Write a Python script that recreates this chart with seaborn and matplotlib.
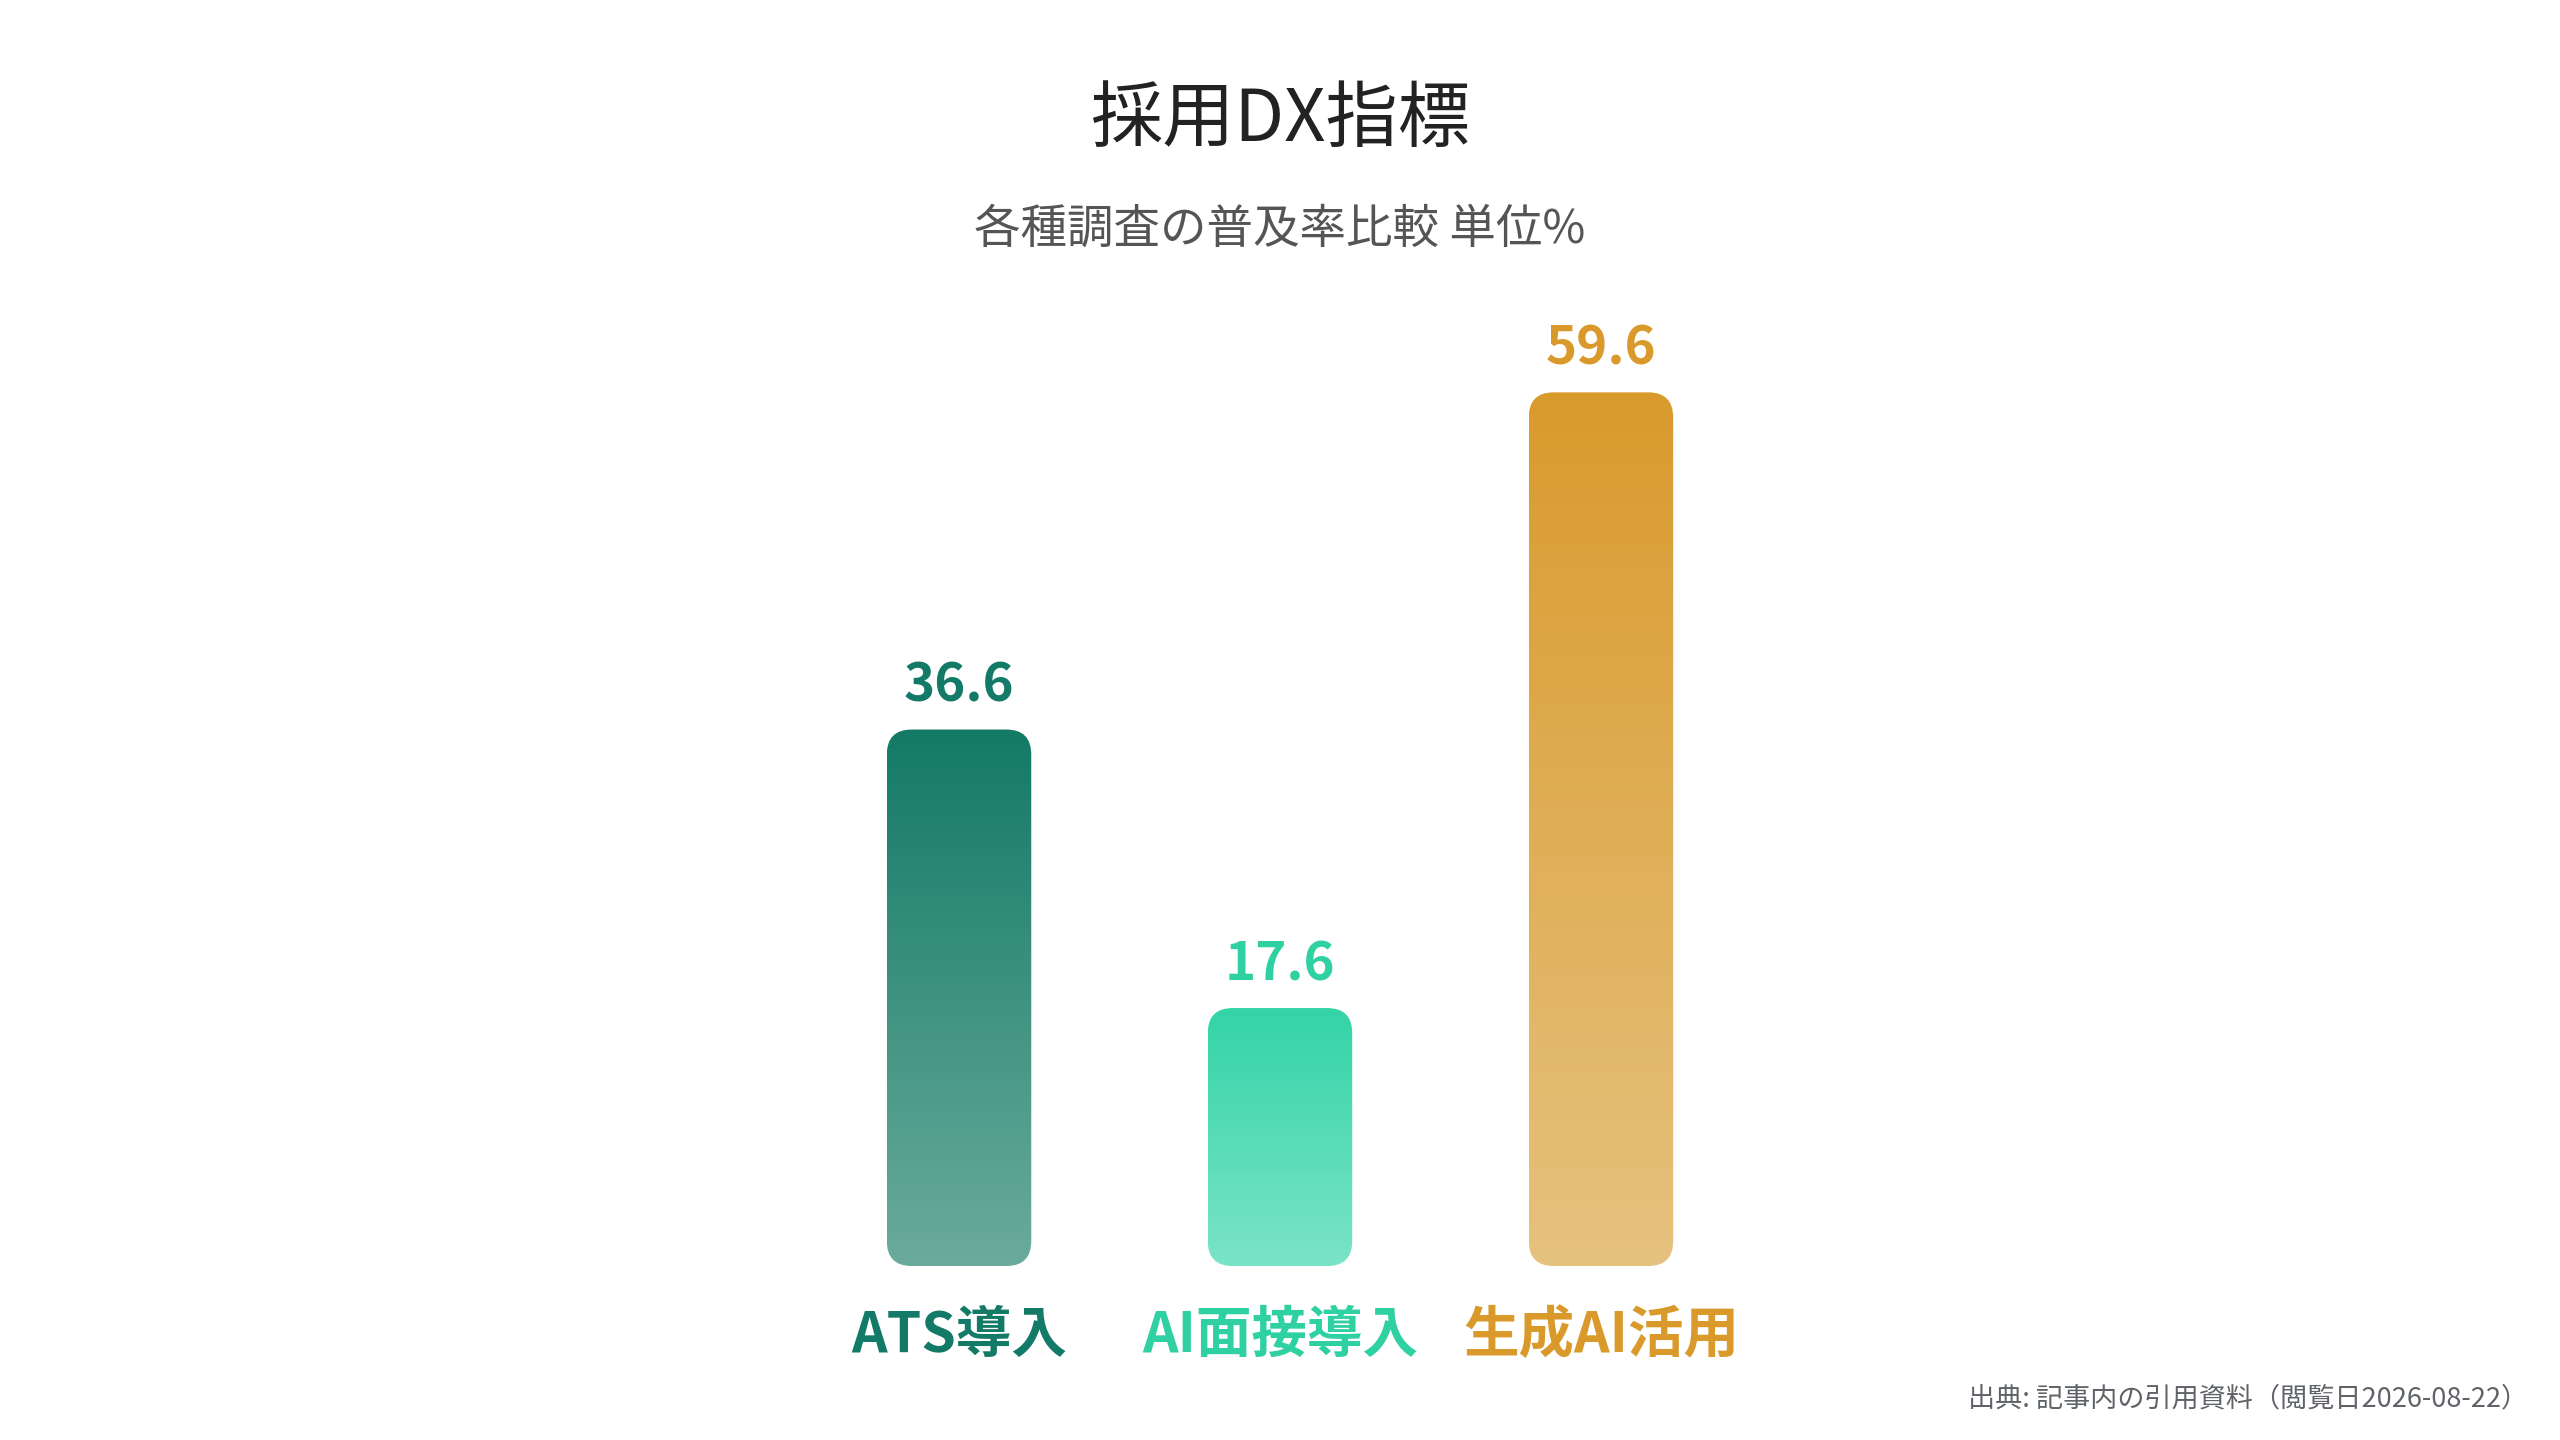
import numpy as np
import pandas as pd
import matplotlib
matplotlib.use("Agg")
import matplotlib.pyplot as plt
import seaborn as sns
from matplotlib.colors import to_rgb
from matplotlib.patches import FancyBboxPatch

categories = ["ATS導入", "AI面接導入", "生成AI活用"]
values = [36.6, 17.6, 59.6]

# 色: 文字色, バー上端, バー下端
label_colors = ["#137a67", "#2fd1a2", "#d99a2b"]
top_colors = ["#137a66", "#33d4a8", "#d99a2d"]
bottom_colors = ["#6aab9c", "#7be4c6", "#e6c27f"]

sns.set_theme(style="white")
plt.rcParams["font.family"] = ["Noto Sans CJK JP", "DejaVu Sans"]

df = pd.DataFrame({"item": categories, "value": values})

fig = plt.figure(figsize=(25.6, 14.4), dpi=100)
ax = fig.add_axes([0, 0.1208, 1, 0.7126])

sns.barplot(data=df, x="item", y="value", hue="item", palette=label_colors,
            width=0.45, legend=False, ax=ax)

ax.set_xlim(-2.988, 4.988)
ax.set_ylim(0, 70)
sns.despine(ax=ax, left=True, bottom=True)
ax.set_yticks([])
ax.set_xlabel("")
ax.set_ylabel("")

# ピクセル/データ単位
bbox = ax.get_window_extent()
px_x = bbox.width / (ax.get_xlim()[1] - ax.get_xlim()[0])
px_y = bbox.height / (ax.get_ylim()[1] - ax.get_ylim()[0])
radius_px = 25

for i, bar in enumerate(ax.patches):
    x0 = bar.get_x()
    w = bar.get_width()
    h = bar.get_height()
    bar.set_visible(False)
    rounded = FancyBboxPatch((x0, 0), w, h,
                             boxstyle=f"round,pad=0,rounding_size={radius_px / px_x}",
                             mutation_aspect=px_x / px_y,
                             facecolor="none", edgecolor="none")
    ax.add_patch(rounded)
    c1 = np.array(to_rgb(top_colors[i]))
    c2 = np.array(to_rgb(bottom_colors[i]))
    t = np.linspace(0, 1, 256)[:, None, None]
    grad = c1 * (1 - t) + c2 * t
    im = ax.imshow(grad, extent=[x0, x0 + w, 0, h], origin="upper",
                   aspect="auto", zorder=2)
    im.set_clip_path(rounded)
    ax.annotate(f"{values[i]:.1f}", (x0 + w / 2, h), xytext=(0, 31),
                textcoords="offset points", ha="center", va="center",
                fontsize=38, fontweight="bold", color=label_colors[i])

ax.set_xlim(-2.988, 4.988)
ax.set_ylim(0, 70)

ax.set_xticks(range(len(categories)))
ax.set_xticklabels(categories, fontsize=40, fontweight="bold")
ax.tick_params(axis="x", length=0, pad=30)
for lbl, c in zip(ax.get_xticklabels(), label_colors):
    lbl.set_color(c)

fig.text(0.5, 1 - 120 / 1440, "採用DX指標", ha="center", va="center",
         fontsize=52, color="#222222")
fig.text(0.5, 1 - 229 / 1440, "各種調査の普及率比較 単位%", ha="center", va="center",
         fontsize=33.5, color="#555555")
fig.text(1 - 32 / 2560, 1 - 1399 / 1440, "出典: 記事内の引用資料（閲覧日2026-08-22）",
         ha="right", va="center", fontsize=19.5, color="#5f6368")

fig.savefig("out.png", dpi=100, facecolor="white")
